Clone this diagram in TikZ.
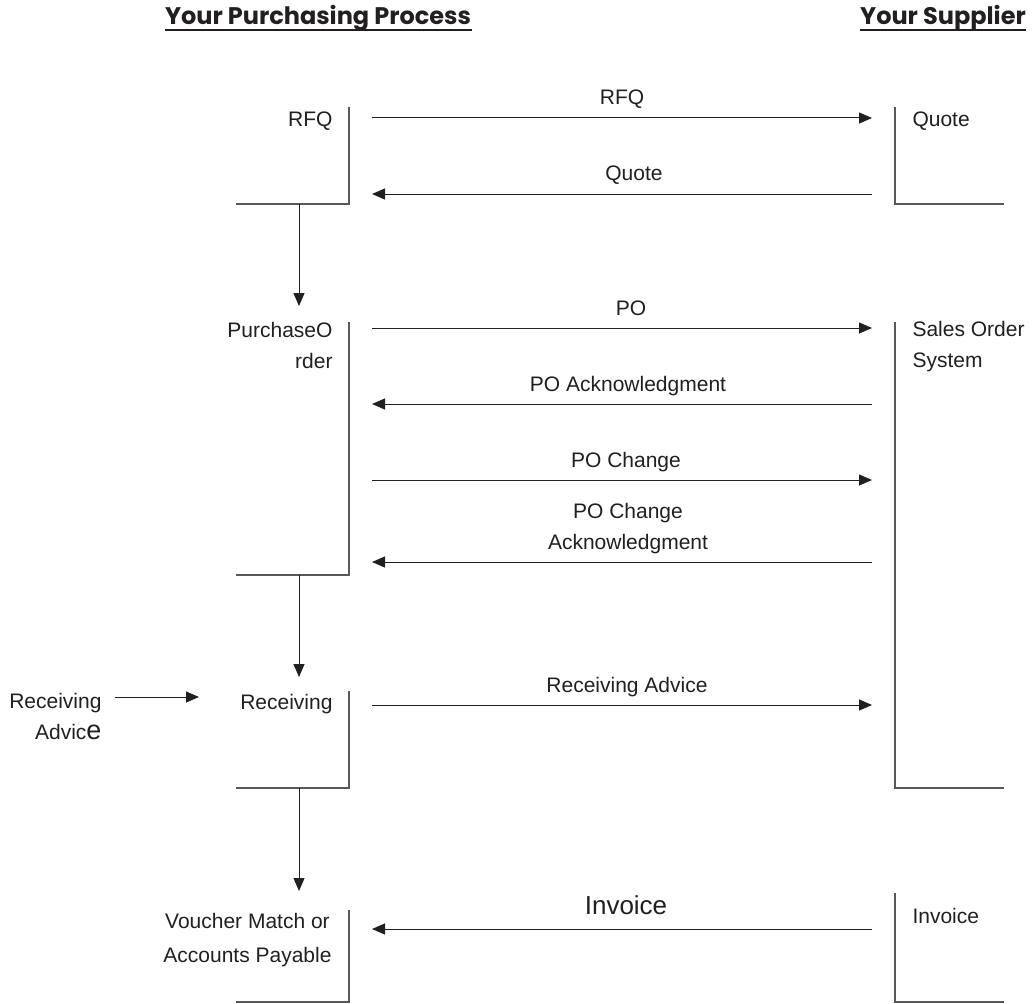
\documentclass[tikz,border=0pt]{standalone}
\usepackage{fontspec}
\setmainfont{Liberation Sans}
\newfontfamily\headfont{Poppins}
\usepackage{tikz}
\usetikzlibrary{arrows.meta}
\definecolor{ink}{RGB}{35,31,32}
\definecolor{rule}{RGB}{88,89,91}

\begin{document}
\begin{tikzpicture}[x=1pt,y=-1pt,line width=1pt,
    lbl/.style={font=\fontsize{21}{31}\selectfont,text=ink,inner sep=0pt},
    msg/.style={lbl,anchor=base},
    flow/.style={draw=ink,-{Triangle[length=13pt,width=11pt]}},
    frame/.style={draw=rule,line width=1.3pt},
    head/.style={font=\headfont\bfseries\fontsize{24}{28}\selectfont,text=ink,inner sep=0pt,anchor=base}]
    \useasboundingbox (0,0) rectangle (1032,1003);

    % headings
    \node[head] (buyer) at (318,25) {Your Purchasing Process};
    \node[head] (seller) at (943,25) {Your Supplier};
    \draw[ink,line width=1.6pt] ([yshift=-5pt]buyer.base west) -- ([yshift=-5pt]buyer.base east);
    \draw[ink,line width=1.6pt] ([yshift=-5pt]seller.base west) -- ([yshift=-5pt]seller.base east);

    % purchasing side (base = last line)
    \node[lbl,anchor=base east] (rfq) at (333,127) {RFQ};
    \node[lbl,anchor=base east,align=right] (po) at (333,368) {PurchaseO\\rder};
    \node[lbl,anchor=base east] (recv) at (333,709) {Receiving};
    \node[lbl,anchor=base east,align=center,font=\fontsize{21}{34}\selectfont] (vouch) at (332,962) {Voucher Match or\\Accounts Payable};
    \node[lbl,anchor=base east,align=right] (radv) at (102,739) {Receiving\\Advic{\fontsize{27}{27}\selectfont e}};

    % supplier side
    \node[lbl,anchor=base west] (quote) at (912,127) {Quote};
    \node[lbl,anchor=base west,align=left] (so) at (912,367) {Sales Order\\System};
    \node[lbl,anchor=base west] (inv) at (912,923) {Invoice};

    % frames
    \draw[frame] (349,107) |- (236,204);
    \draw[frame] (349,322) |- (236,575);
    \draw[frame] (349,691) |- (236,788);
    \draw[frame] (349,910) |- (236,1002);
    \draw[frame] (895,107) |- (1004,204);
    \draw[frame] (895,322) |- (1004,788);
    \draw[frame] (895,893) |- (1004,1002);

    % message ends
    \foreach \n/\y in {1/118,2/194,3/328,4/404,5/480,6/562,7/705,8/929} {
        \coordinate (l\n) at (372,\y);
        \coordinate (r\n) at (872,\y);
    }
    \coordinate (rfq-foot) at (299,204);
    \coordinate (po-head) at (299,306);
    \coordinate (po-foot) at (299,575);
    \coordinate (recv-head) at (299,677);
    \coordinate (recv-foot) at (299,788);
    \coordinate (vouch-head) at (299,891);
    \coordinate (radv-out) at (115,697);
    \coordinate (recv-in) at (199,697);

    \path
    (l1) edge[flow] (r1)
    (r2) edge[flow] (l2)
    (l3) edge[flow] (r3)
    (r4) edge[flow] (l4)
    (l5) edge[flow] (r5)
    (r6) edge[flow] (l6)
    (l7) edge[flow] (r7)
    (r8) edge[flow] (l8)
    (rfq-foot) edge[flow] (po-head)
    (po-foot) edge[flow] (recv-head)
    (recv-foot) edge[flow] (vouch-head)
    (radv-out) edge[flow] (recv-in);

    % message labels
    \node[msg] (m1) at (622,105) {RFQ};
    \node[msg] (m2) at (634,181) {Quote};
    \node[msg] (m3) at (631,315) {PO};
    \node[msg] (m4) at (628,391) {PO Acknowledgment};
    \node[msg] (m5) at (626,467) {PO Change};
    \node[msg,align=center] (m6) at (628,549) {PO Change\\Acknowledgment};
    \node[msg] (m7) at (627,692) {Receiving Advice};
    \node[msg,font=\fontsize{26}{30}\selectfont] (m8) at (626,914) {Invoice};
\end{tikzpicture}
\end{document}
